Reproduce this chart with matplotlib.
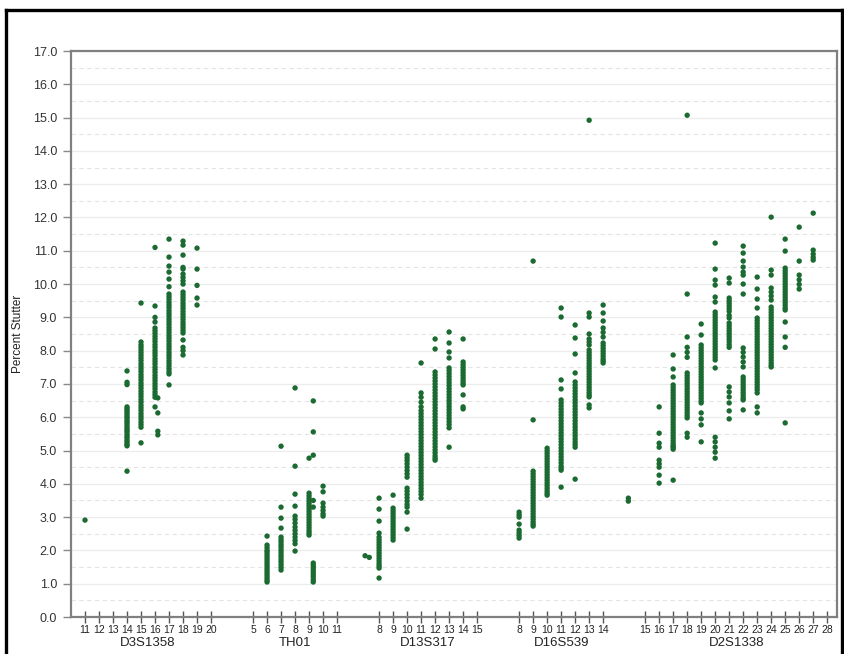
import matplotlib
matplotlib.use('Agg')
import matplotlib.pyplot as plt
import matplotlib.transforms as mtransforms
from matplotlib.lines import Line2D

plt.rcParams['font.family'] = ['Liberation Sans', 'DejaVu Sans']

# tick labels (alleles) for each locus, in order along the x axis
loci = ['D3S1358', 'TH01', 'D13S317', 'D16S539', 'D2S1338']
d3s1358_ticks = [11, 12, 13, 14, 15, 16, 17, 18, 19, 20]
th01_ticks = [5, 6, 7, 8, 9, 10, 11]
d13s317_ticks = [8, 9, 10, 11, 12, 13, 14, 15]
d16s539_ticks = [8, 9, 10, 11, 12, 13, 14]
d2s1338_ticks = [15, 16, 17, 18, 19, 20, 21, 22, 23, 24, 25, 26, 27, 28]

# percent stutter per allele
d3s1358 = {
    11: [2.91],
    14: [7.39, 7.05, 6.98, 6.31, 6.25, 6.2, 6.14, 6.08, 6.02, 5.97, 5.9, 5.85, 5.79, 5.72,
         5.66, 5.6, 5.55, 5.48, 5.42, 5.37, 5.3, 5.24, 5.18, 5.14, 4.38],
    15: [9.43, 8.26, 8.17, 8.1, 8.02, 7.94, 7.86, 7.78, 7.7, 7.61, 7.53, 7.45, 7.37, 7.28,
         7.2, 7.12, 7.03, 6.95, 6.87, 6.78, 6.7, 6.62, 6.53, 6.45, 6.36, 6.28, 6.2, 6.11,
         6.03, 5.95, 5.86, 5.78, 5.7, 5.23],
    16: [11.1, 9.34, 9.0, 8.86, 8.68, 8.6, 8.52, 8.43, 8.35, 8.27, 8.18, 8.1, 8.01, 7.93,
         7.85, 7.76, 7.68, 7.6, 7.51, 7.43, 7.35, 7.26, 7.18, 7.1, 7.01, 6.93, 6.85, 6.76,
         6.68, 6.6, 6.31],
    16.2: [6.58, 6.13, 5.58, 5.47],
    17: [11.35, 10.81, 10.54, 10.36, 10.15, 9.92, 9.7, 9.62, 9.54, 9.45, 9.37, 9.29, 9.2,
         9.12, 9.04, 8.95, 8.87, 8.79, 8.7, 8.62, 8.54, 8.45, 8.37, 8.29, 8.2, 8.12, 8.04,
         7.95, 7.87, 7.79, 7.7, 7.62, 7.54, 7.45, 7.37, 7.3, 6.97],
    18: [11.29, 11.17, 10.87, 10.5, 10.45, 10.3, 10.2, 10.1, 10.0, 9.76, 9.68, 9.6, 9.52,
         9.43, 9.35, 9.27, 9.18, 9.1, 9.02, 8.94, 8.85, 8.77, 8.69, 8.61, 8.53, 8.32, 8.1,
         8.0, 7.87],
    19: [11.08, 10.45, 9.96, 9.58, 9.37],
}

th01 = {
    6: [2.43, 2.16, 2.08, 2.0, 1.95, 1.88, 1.81, 1.74, 1.67, 1.6, 1.53, 1.46, 1.39, 1.32,
        1.25, 1.18, 1.11, 1.05],
    7: [5.13, 3.3, 2.97, 2.67, 2.4, 2.32, 2.25, 2.17, 2.1, 2.02, 1.95, 1.87, 1.8, 1.72,
        1.65, 1.57, 1.49, 1.41],
    8: [6.88, 4.53, 3.69, 3.33, 3.03, 2.93, 2.82, 2.7, 2.6, 2.5, 2.4, 2.3, 2.2, 1.98],
    9: [4.77, 3.72, 3.64, 3.56, 3.48, 3.4, 3.32, 3.24, 3.16, 3.08, 3.0, 2.92, 2.84, 2.76,
        2.68, 2.6, 2.53, 2.46],
    9.3: [6.49, 5.56, 4.86, 3.5, 3.3, 1.62, 1.55, 1.48, 1.41, 1.34, 1.27, 1.2, 1.12, 1.05],
    10: [3.93, 3.76, 3.42, 3.3, 3.2, 3.1, 3.03],
}

d13s317 = {
    7: [1.84],
    7.3: [1.79],
    8: [3.57, 3.24, 2.88, 2.52, 2.4, 2.32, 2.24, 2.16, 2.08, 2.0, 1.92, 1.84, 1.76, 1.68,
        1.6, 1.53, 1.47, 1.17],
    9: [3.66, 3.27, 3.19, 3.11, 3.03, 2.95, 2.87, 2.79, 2.71, 2.63, 2.55, 2.47, 2.39, 2.31],
    10: [4.86, 4.78, 4.7, 4.6, 4.5, 4.4, 4.3, 4.2, 3.87, 3.78, 3.68, 3.58, 3.48, 3.38,
         3.3, 3.15, 2.64],
    11: [7.63, 6.73, 6.6, 6.45, 6.31, 6.2, 6.11, 6.02, 5.93, 5.84, 5.75, 5.66, 5.57, 5.48,
         5.39, 5.3, 5.21, 5.12, 5.03, 4.94, 4.85, 4.76, 4.67, 4.58, 4.49, 4.4, 4.31, 4.22,
         4.13, 4.04, 3.95, 3.86, 3.77, 3.68, 3.57],
    12: [8.35, 8.05, 7.36, 7.27, 7.18, 7.09, 7.0, 6.91, 6.82, 6.73, 6.64, 6.55, 6.46, 6.37,
         6.28, 6.19, 6.1, 6.01, 5.92, 5.83, 5.74, 5.65, 5.56, 5.47, 5.38, 5.29, 5.2, 5.11,
         5.02, 4.93, 4.84, 4.77, 4.71],
    13: [8.56, 8.23, 7.96, 7.78, 7.48, 7.4, 7.31, 7.22, 7.13, 7.04, 6.95, 6.86, 6.77, 6.68,
         6.59, 6.5, 6.41, 6.32, 6.23, 6.14, 6.05, 5.96, 5.87, 5.78, 5.68, 5.1],
    14: [8.35, 7.66, 7.58, 7.5, 7.42, 7.34, 7.26, 7.18, 7.1, 7.03, 6.97, 6.67, 6.31, 6.25],
}

d16s539 = {
    8: [3.15, 3.07, 3.0, 2.79, 2.61, 2.53, 2.45, 2.37],
    9: [10.69, 5.92, 4.38, 4.3, 4.22, 4.14, 4.06, 3.98, 3.9, 3.82, 3.74, 3.66, 3.58, 3.5,
        3.42, 3.34, 3.26, 3.18, 3.1, 3.02, 2.94, 2.86, 2.79, 2.73],
    10: [5.07, 4.99, 4.91, 4.83, 4.75, 4.67, 4.59, 4.51, 4.43, 4.35, 4.27, 4.19, 4.11, 4.03,
         3.95, 3.87, 3.79, 3.72, 3.66],
    11: [9.28, 9.01, 7.12, 6.85, 6.52, 6.43, 6.34, 6.25, 6.16, 6.07, 5.98, 5.89, 5.8, 5.71,
         5.62, 5.53, 5.44, 5.35, 5.26, 5.17, 5.08, 4.99, 4.9, 4.81, 4.72, 4.63, 4.54, 4.47,
         4.41, 3.9],
    12: [8.77, 8.38, 7.9, 7.33, 7.06, 6.97, 6.88, 6.79, 6.7, 6.61, 6.52, 6.43, 6.34, 6.25,
         6.16, 6.07, 5.98, 5.89, 5.8, 5.71, 5.62, 5.53, 5.44, 5.35, 5.26, 5.18, 5.1, 4.14],
    13: [14.92, 9.13, 9.01, 8.5, 8.35, 8.26, 8.17, 8.02, 7.94, 7.86, 7.78, 7.7, 7.62, 7.54,
         7.46, 7.38, 7.3, 7.22, 7.14, 7.06, 6.98, 6.9, 6.82, 6.74, 6.67, 6.61, 6.37, 6.28],
    14: [9.37, 9.13, 8.89, 8.68, 8.55, 8.41, 8.23, 8.15, 8.07, 7.99, 7.91, 7.83, 7.75,
         7.69, 7.63],
}

d2s1338 = {
    13.8: [3.57, 3.48],
    16: [6.31, 5.52, 5.22, 5.1, 4.71, 4.6, 4.5, 4.26, 4.02],
    17: [7.87, 7.45, 7.21, 6.97, 6.89, 6.81, 6.73, 6.65, 6.57, 6.49, 6.41, 6.33, 6.25, 6.17,
         6.09, 6.01, 5.93, 5.85, 5.77, 5.69, 5.61, 5.53, 5.45, 5.37, 5.29, 5.21, 5.14, 5.1,
         5.04, 4.11],
    18: [15.07, 9.7, 8.41, 8.1, 7.95, 7.8, 7.33, 7.25, 7.17, 7.09, 7.01, 6.93, 6.85, 6.77,
         6.69, 6.61, 6.53, 6.45, 6.37, 6.29, 6.21, 6.13, 6.05, 5.98, 5.52, 5.4],
    19: [8.8, 8.47, 8.17, 8.09, 8.01, 7.93, 7.85, 7.77, 7.69, 7.61, 7.53, 7.45, 7.37, 7.29,
         7.21, 7.13, 7.05, 6.97, 6.89, 6.81, 6.73, 6.65, 6.57, 6.49, 6.43, 6.13, 5.95, 5.77,
         5.26],
    20: [11.23, 10.45, 10.12, 9.97, 9.61, 9.46, 9.16, 9.08, 9.0, 8.92, 8.84, 8.76, 8.68,
         8.6, 8.52, 8.44, 8.36, 8.28, 8.2, 8.12, 8.04, 7.96, 7.88, 7.8, 7.72, 7.48, 5.4,
         5.26, 5.1, 4.95, 4.77],
    21: [10.18, 10.03, 9.58, 9.5, 9.42, 9.34, 9.26, 9.18, 9.06, 8.98, 8.83, 8.75, 8.67,
         8.59, 8.51, 8.43, 8.35, 8.27, 8.18, 8.1, 6.91, 6.76, 6.61, 6.43, 6.19, 5.95],
    22: [11.14, 10.93, 10.69, 10.51, 10.36, 10.27, 10.0, 9.7, 8.08, 7.95, 7.81, 7.66, 7.51,
         7.21, 7.13, 7.05, 6.97, 6.89, 6.81, 6.73, 6.65, 6.57, 6.52, 6.22],
    23: [10.21, 9.85, 9.55, 9.28, 8.98, 8.9, 8.82, 8.74, 8.66, 8.58, 8.5, 8.42, 8.34, 8.26,
         8.18, 8.1, 8.02, 7.94, 7.86, 7.78, 7.7, 7.62, 7.54, 7.46, 7.38, 7.3, 7.22, 7.14,
         7.06, 6.98, 6.9, 6.82, 6.73, 6.31, 6.13],
    24: [12.01, 10.42, 10.27, 9.88, 9.76, 9.64, 9.52, 9.31, 9.23, 9.15, 9.07, 8.99, 8.91,
         8.83, 8.75, 8.67, 8.59, 8.51, 8.43, 8.35, 8.27, 8.19, 8.11, 8.03, 7.95, 7.87, 7.79,
         7.71, 7.63, 7.56, 7.51],
    25: [11.35, 10.99, 10.48, 10.4, 10.32, 10.24, 10.16, 10.08, 10.0, 9.92, 9.84, 9.76,
         9.68, 9.6, 9.52, 9.44, 9.36, 9.28, 9.22, 8.86, 8.41, 8.1, 5.83],
    26: [11.71, 10.69, 10.27, 10.13, 9.99, 9.85],
    27: [12.13, 11.02, 10.9, 10.8, 10.72],
}

ticks_list = [d3s1358_ticks, th01_ticks, d13s317_ticks, d16s539_ticks, d2s1338_ticks]
data_list = [d3s1358, th01, d13s317, d16s539, d2s1338]
GAP = 2  # empty slots between loci

fig = plt.figure(figsize=(8.44, 6.54), dpi=100)
ax = fig.add_axes([71 / 844, 1 - 617 / 654, 766 / 844, 566 / 654])

tick_pos = []
tick_lab = []
centers = []
start = 0
for ticks, data in zip(ticks_list, data_list):
    first = ticks[0]
    for t in ticks:
        tick_pos.append(start + t - first)
        tick_lab.append(str(t))
    centers.append(start + (len(ticks) - 1) / 2)
    for allele, vals in data.items():
        x = start + allele - first
        ax.scatter([x] * len(vals), vals, s=15, color='#1b6a31', edgecolors='none', zorder=3)
    start += len(ticks) + GAP

ax.set_xlim(-1, 53.7)
ax.set_ylim(0, 17)

# y axis
ax.set_yticks(range(0, 18))
ax.set_yticklabels(['%.1f' % v for v in range(0, 18)], fontsize=9, color='#333333')
ax.set_yticks([v + 0.5 for v in range(0, 17)], minor=True)
ax.tick_params(axis='y', which='major', direction='out', length=6, width=1, color='#888888', pad=4)
ax.tick_params(axis='y', which='minor', length=0)
ax.grid(axis='y', which='major', color='#ececec', linewidth=0.9, zorder=0)
ax.grid(axis='y', which='minor', color='#e4e4e4', linewidth=0.8, linestyle=(0, (4, 3)), zorder=0)
ax.set_axisbelow(True)
ax.set_ylabel('Percent Stutter', fontsize=8.5, color='#222222')
ax.yaxis.set_label_coords(-0.061, 0.5)

# x axis
ax.set_xticks(tick_pos)
ax.set_xticklabels(tick_lab, fontsize=7.5, color='#222222')
ax.tick_params(axis='x', direction='inout', length=8, width=1, color='#555555', pad=2)

trans = mtransforms.blended_transform_factory(ax.transData, ax.transAxes)
for c, name in zip(centers, loci):
    ax.text(c, -0.046, name, transform=trans, ha='center', va='center', fontsize=9.5,
            color='#222222')

for side in ['left', 'right', 'top', 'bottom']:
    ax.spines[side].set_color('#808080')
    ax.spines[side].set_linewidth(1.6)

# black frame around the picture (bottom is cut off)
top_y = 1 - 10 / 654
fig.add_artist(Line2D([6 / 844, 6 / 844], [0, top_y], color='black', linewidth=2.4))
fig.add_artist(Line2D([6 / 844, 842 / 844], [top_y, top_y], color='black', linewidth=2.4))
fig.add_artist(Line2D([842 / 844, 842 / 844], [0, top_y], color='black', linewidth=2.4))

plt.savefig('out.png', dpi=100)
